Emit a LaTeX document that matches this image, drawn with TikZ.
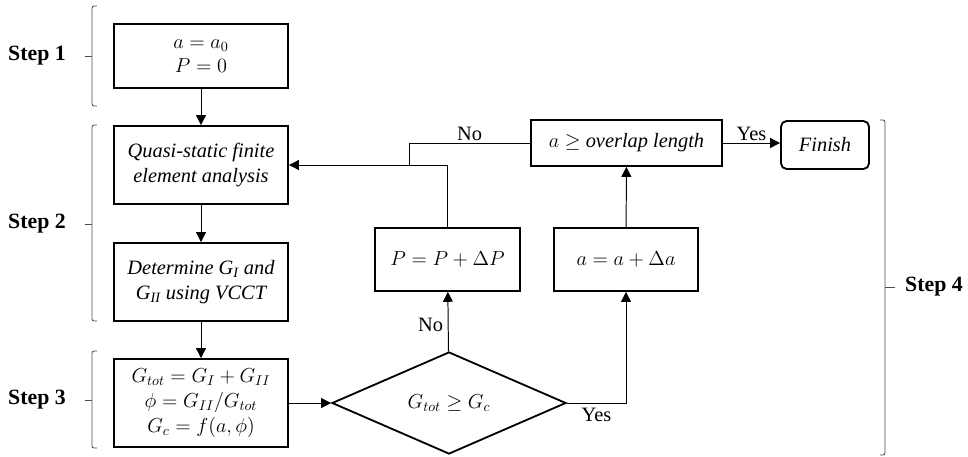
\documentclass[tikz,border=0pt]{standalone}
\usepackage{fontspec}
\setmainfont{Liberation Serif}
\usetikzlibrary{shapes.geometric,arrows.meta}

\tikzset{
	blk/.style={draw,line width=1.3pt,inner sep=0pt,align=center},
	arr/.style={line width=0.7pt,-{Triangle[length=7pt,width=7pt]}},
	ln/.style={line width=0.7pt},
	brk/.style={line width=0.6pt,black!70,rounded corners=1.5pt},
	steplbl/.style={font=\fontsize{15.5}{18}\selectfont\bfseries}
}

\begin{document}
\begin{tikzpicture}[x=0.025cm,y=-0.025cm,every node/.append style={font=\fontsize{14.5}{17.5}\selectfont}]
	\useasboundingbox (0,0) rectangle (968,456);

	\node[blk,minimum width=4.35cm,minimum height=1.6cm] (init) at (201,56) {$a = a_0$\\$P = 0$};
	\node[blk,minimum width=4.35cm,minimum height=1.95cm,font=\fontsize{14.5}{17.5}\selectfont\itshape] (fea) at (201,165) {Quasi-static finite\\element analysis};
	\node[blk,minimum width=4.35cm,minimum height=1.95cm,font=\fontsize{14.5}{17.5}\selectfont\itshape] (vcct) at (201,282) {Determine G\textsubscript{I} and\\G\textsubscript{II} using VCCT};
	\node[blk,minimum width=4.35cm,minimum height=2.2cm] (crit) at (201,403) {$G_{tot} = G_I + G_{II}$\\$\phi = G_{II}/G_{tot}$\\$G_c = f(a,\phi)$};
	\node[blk,diamond,minimum width=5.85cm,minimum height=2.55cm] (check) at (449,403) {$G_{tot} \geq G_c$};
	\node[blk,minimum width=3.625cm,minimum height=1.575cm] (incP) at (447.5,259.5) {$P = P + \Delta P$};
	\node[blk,minimum width=3.6cm,minimum height=1.575cm] (inca) at (626,259.5) {$a = a + \Delta a$};
	\node[blk,minimum width=4.775cm,minimum height=1.15cm] (ovl) at (626.5,143) {$a \geq$ \textit{overlap length}};
	\node[blk,rounded corners=4pt,minimum width=2.2cm,minimum height=1.2cm,font=\fontsize{14.5}{17.5}\selectfont\itshape] (fin) at (825,145) {Finish};
	\coordinate (jn) at (409,165);

	\draw[arr] (init) -- (fea);
	\draw[arr] (fea) -- (vcct);
	\draw[arr] (vcct) -- (crit);
	\draw[arr] (crit) -- (check);
	\draw[arr] (check) -- node[left,pos=0.45]{No} (incP);
	\draw[arr] (check.east) -| node[below,pos=0.25]{Yes} (inca);
	\draw[arr] (inca) -- (ovl);
	\draw[arr] (ovl.east) -- node[above,inner sep=1pt]{Yes} (ovl.east -| fin.west);
	\draw[arr] (incP.north) |- (fea.east);
	\draw[ln] (ovl.west) -| node[above,pos=0.25,inner sep=1pt]{No} (jn);

	\node[steplbl] (st1) at (37,56) {Step 1};
	\node[steplbl] (st2) at (37,224) {Step 2};
	\node[steplbl] (st3) at (37,400) {Step 3};
	\node[steplbl] (st4) at (934,287) {Step 4};

	\draw[brk] (97,6) -| (92,106) -- (97,106);
	\draw[brk] (85,56) -- (92,56);
	\draw[brk] (97,125) -| (92,321) -- (97,321);
	\draw[brk] (85,224) -- (92,224);
	\draw[brk] (97,351) -| (92,448) -- (97,448);
	\draw[brk] (85,400) -- (92,400);
	\draw[brk] (880,120) -| (885,455) -- (880,455);
	\draw[brk] (885,287) -- (895,287);

\end{tikzpicture}
\end{document}
